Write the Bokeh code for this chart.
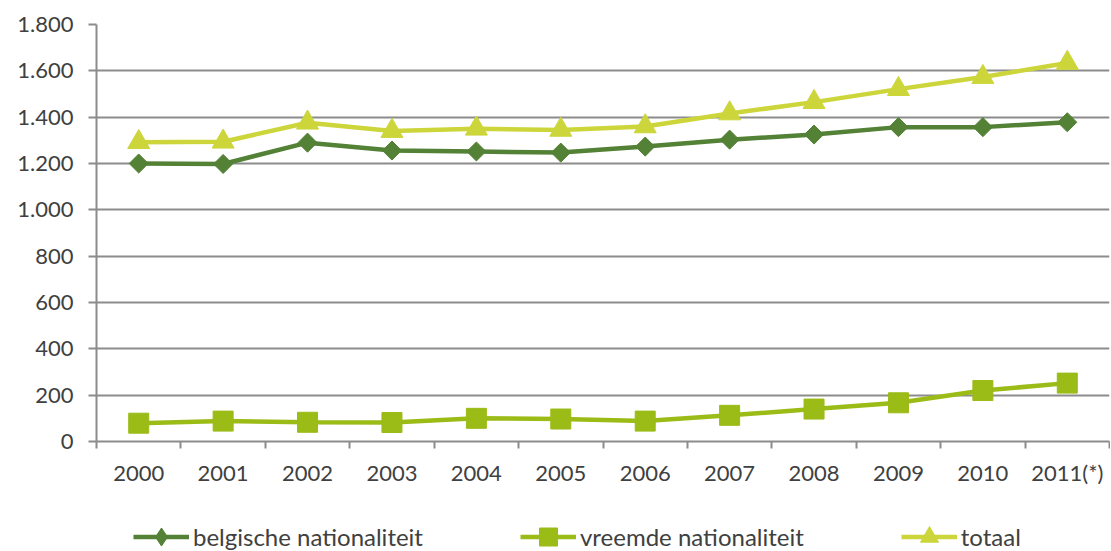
import math
from bokeh.plotting import figure
from bokeh.layouts import column
from bokeh.models import FixedTicker, Range1d, Legend, LegendItem
from bokeh.embed import file_html
from bokeh.resources import INLINE

years = ["2000", "2001", "2002", "2003", "2004", "2005", "2006", "2007", "2008", "2009", "2010", "2011(*)"]
belgisch = [1200, 1198, 1290, 1256, 1252, 1247, 1273, 1303, 1325, 1357, 1357, 1378]
vreemd = [79, 88, 83, 82, 100, 97, 88, 113, 140, 167, 220, 252]
totaal = [1292, 1294, 1376, 1340, 1350, 1345, 1360, 1416, 1465, 1521, 1573, 1634]
y_ticks = [0, 200, 400, 600, 800, 1000, 1200, 1400, 1600, 1800]
y_labels = ["0", "200", "400", "600", "800", "1.000", "1.200", "1.400", "1.600", "1.800"]
series_names = ["belgische nationaliteit", "vreemde nationaliteit", "totaal"]

FONT = "Lato"
TXT = "#404040"
GRID = "#8c8c8c"
C_BEL = "#538135"
C_VRE = "#9bbb17"
C_TOT = "#ccd63a"
FS = "22px"

xs = [i + 0.5 for i in range(len(years))]

p = figure(width=1110, height=488, output_backend="svg", toolbar_location=None,
           x_range=Range1d(0, len(years)), y_range=Range1d(0, 1800),
           min_border_left=96, min_border_right=1, min_border_top=24, min_border_bottom=46)
p.outline_line_color = None
p.background_fill_color = "white"
p.border_fill_color = "white"

# x axis
p.xaxis.ticker = FixedTicker(ticks=xs, minor_ticks=list(range(len(years) + 1)))
p.xaxis.major_label_overrides = {x: y for x, y in zip(xs, years)}
p.xaxis.major_tick_line_color = None
p.xaxis.minor_tick_line_color = GRID
p.xaxis.minor_tick_line_width = 2
p.xaxis.minor_tick_in = 0
p.xaxis.minor_tick_out = 7
p.xaxis.axis_line_color = GRID
p.xaxis.axis_line_width = 2
p.xaxis.major_label_standoff = 10
p.xaxis.major_label_text_font = FONT
p.xaxis.major_label_text_font_size = FS
p.xaxis.major_label_text_color = TXT
p.xgrid.grid_line_color = None

# y axis
p.yaxis.ticker = FixedTicker(ticks=y_ticks)
p.yaxis.major_label_overrides = {t: l for t, l in zip(y_ticks, y_labels)}
p.yaxis.major_tick_line_color = GRID
p.yaxis.major_tick_line_width = 2
p.yaxis.major_tick_in = 0
p.yaxis.major_tick_out = 8
p.yaxis.minor_tick_line_color = None
p.yaxis.axis_line_color = GRID
p.yaxis.axis_line_width = 2
p.yaxis.major_label_standoff = 15
p.yaxis.major_label_text_font = FONT
p.yaxis.major_label_text_font_size = FS
p.yaxis.major_label_text_color = TXT
p.ygrid.grid_line_color = GRID
p.ygrid.grid_line_width = 2

styles = [
    dict(color=C_BEL, marker="square", size=13.5, angle=math.pi / 4, leg_marker="diamond"),
    dict(color=C_VRE, marker="square", size=20, angle=0.0, leg_marker="square"),
    dict(color=C_TOT, marker="triangle", size=22, angle=0.0, leg_marker="triangle"),
]
all_series = [belgisch, vreemd, totaal]

for vals, st in zip(all_series, styles):
    p.line(xs, vals, line_color=st["color"], line_width=4.5)
    p.scatter(xs, vals, marker=st["marker"], size=st["size"], angle=st["angle"],
              fill_color=st["color"], line_color=st["color"])

# legend strip: the same series drawn again, but outside this strip's visible range
lg = figure(width=1110, height=62, output_backend="svg", toolbar_location=None,
            x_range=Range1d(0, len(years)), y_range=Range1d(5000, 5060),
            x_axis_type=None, y_axis_type=None,
            min_border_left=0, min_border_right=0, min_border_top=0, min_border_bottom=0)
lg.outline_line_color = None
lg.xgrid.grid_line_color = None
lg.ygrid.grid_line_color = None

items = []
for name, vals, st in zip(series_names, all_series, styles):
    r1 = lg.line(xs, vals, line_color=st["color"], line_width=4.5)
    r2 = lg.scatter(xs, vals, marker=st["leg_marker"], size=st["size"],
                    fill_color=st["color"], line_color=st["color"])
    items.append(LegendItem(label=name, renderers=[r1, r2]))

leg = Legend(items=items, location=(37, -9), orientation="horizontal",
             glyph_width=56, glyph_height=45, label_standoff=4, spacing=97,
             label_text_font=FONT, label_text_font_size="24px", label_text_color=TXT,
             label_height=45, border_line_color=None, background_fill_alpha=0,
             padding=0, margin=0)
lg.add_layout(leg, "center")

open("out.html", "w").write(file_html(column(p, lg, spacing=0), INLINE))
